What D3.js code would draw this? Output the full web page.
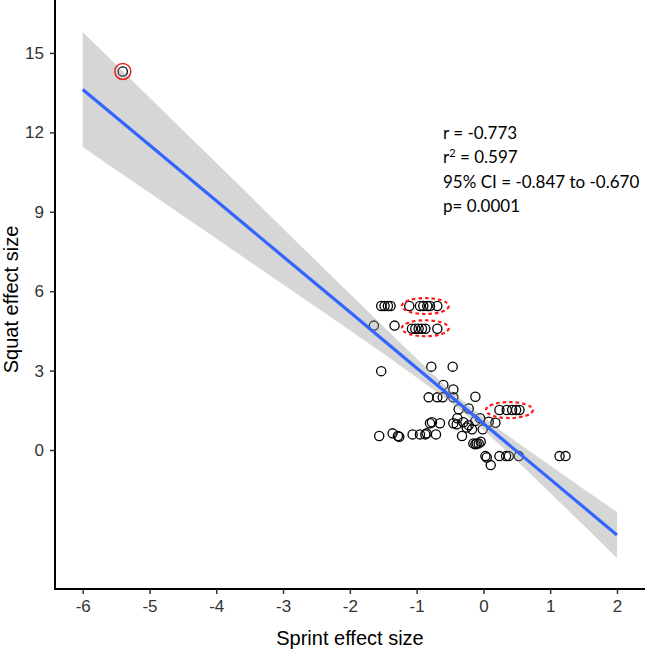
<!DOCTYPE html>
<html>
<head>
<meta charset="utf-8">
<script src="https://cdn.jsdelivr.net/npm/d3@7"></script>
<style>
  html, body { margin: 0; padding: 0; background: #fff; }
  svg { display: block; }
</style>
</head>
<body>
<svg id="chart" width="645" height="652"></svg>
<script>
// ---- Data ----
const sprintES = [
  -5.40,
  -1.53, -1.48, -1.43, -1.39,
  -1.11, -0.95, -0.90, -0.84, -0.80, -0.69,
  -1.64, -1.33,
  -1.07, -1.02, -0.97, -0.92, -0.87, -0.69,
  -1.53,
  -0.78, -0.46,
  -0.60, -0.45,
  -0.82, -0.69, -0.61, -0.45, -0.12,
  -0.37, -0.22,
  0.24, 0.35, 0.43, 0.49, 0.54,
  -0.39, -0.05,
  -0.80, -0.77, -0.65, -0.45, -0.40, -0.30, -0.22, -0.12, 0.08, 0.18, -0.25,
  -0.17, -0.01,
  -1.56, -1.36, -1.28, -1.26, -1.06, -0.95, -0.87, -0.85, -0.71, -0.32,
  -0.15, -0.12, -0.10, -0.07, -0.04,
  0.03, 0.05, 0.24, 0.34, 0.38, 0.53, 1.14, 1.23,
  0.11
];
const squatES = [
  14.30,
  5.44, 5.44, 5.44, 5.44,
  5.44, 5.44, 5.44, 5.44, 5.44, 5.44,
  4.70, 4.70,
  4.58, 4.58, 4.58, 4.58, 4.58, 4.58,
  2.98,
  3.15, 3.15,
  2.46, 2.29,
  1.99, 1.99, 1.99, 1.99, 2.01,
  1.54, 1.57,
  1.51, 1.51, 1.51, 1.51, 1.51,
  1.20, 1.20,
  1.01, 1.05, 1.01, 1.01, 0.97, 1.05, 0.94, 1.10, 1.07, 1.03, 0.85,
  0.78, 0.78,
  0.53, 0.63, 0.53, 0.50, 0.59, 0.59, 0.59, 0.63, 0.59, 0.53,
  0.25, 0.22, 0.25, 0.25, 0.31,
  -0.23, -0.28, -0.23, -0.23, -0.23, -0.23, -0.23, -0.23,
  -0.57
];

// Regression fit and 95% confidence band (read at these sprint values)
const fitX    = [-6, -5, -4, -3, -2, -1, -0.5, 0, 1, 2];
const fitY    = [13.62, 11.52, 9.42, 7.31, 5.21, 3.10, 2.05, 1.00, -1.10, -3.21];
const bandLow = [11.45, 9.72, 7.99, 6.25, 4.52, 2.74, 1.82, 0.76, -1.62, -4.08];
const bandHigh= [15.79, 13.32, 10.85, 8.37, 5.90, 3.46, 2.28, 1.24, -0.58, -2.34];

// Highlighted points
const outlier = { x: -5.40, y: 14.30 };
const groupEllipses = [
  { x: -0.87, y: 5.44 },
  { x: -0.87, y: 4.60 },
  { x: 0.39,  y: 1.51 }
];

const xTicks = [-6, -5, -4, -3, -2, -1, 0, 1, 2];
const yTicks = [0, 3, 6, 9, 12, 15];

const statsText = ["r = -0.773", "r2", "95% CI = -0.847 to -0.670", "p= 0.0001"];

// ---- Layout ----
const svg = d3.select("#chart");
const pLeft = 55, pRight = 645, pTop = 0, pBottom = 589;

const x = d3.scaleLinear().domain([-6.415, 2.42]).range([pLeft, pRight]);
const y = d3.scaleLinear().domain([-5.25, 17.0]).range([pBottom, pTop]);

const pts = sprintES.map((v, i) => ({ x: v, y: squatES[i] }));

// points (under the smoothing band, as in ggplot order)
svg.append("g").selectAll("circle").data(pts).join("circle")
  .attr("cx", d => x(d.x)).attr("cy", d => y(d.y)).attr("r", 4.6)
  .attr("fill", "none").attr("stroke", "#000").attr("stroke-width", 1.3);

// band
const bandData = fitX.map((v, i) => ({ x: v, lo: bandLow[i], hi: bandHigh[i], f: fitY[i] }));
svg.append("path").datum(bandData)
  .attr("d", d3.area().x(d => x(d.x)).y0(d => y(d.lo)).y1(d => y(d.hi)).curve(d3.curveMonotoneX))
  .attr("fill", "#999999").attr("fill-opacity", 0.4);

// fit line
svg.append("path").datum(bandData)
  .attr("d", d3.line().x(d => x(d.x)).y(d => y(d.f)))
  .attr("fill", "none").attr("stroke", "#3366FF").attr("stroke-width", 3.2);

// outlier ring
svg.append("circle").attr("cx", x(outlier.x)).attr("cy", y(outlier.y)).attr("r", 8)
  .attr("fill", "none").attr("stroke", "#e0261b").attr("stroke-width", 1.5);

// dashed ellipses
svg.append("g").selectAll("ellipse").data(groupEllipses).join("ellipse")
  .attr("cx", d => x(d.x)).attr("cy", d => y(d.y)).attr("rx", 23.5).attr("ry", 8)
  .attr("fill", "none").attr("stroke", "#ff1a1a").attr("stroke-width", 2.2)
  .attr("stroke-dasharray", "3.5,3");

// axes
const axisFont = "'Liberation Sans', Arial, sans-serif";
const fmt = d => String(d);
const xAxis = svg.append("g").attr("transform", `translate(0,${pBottom})`)
  .call(d3.axisBottom(x).tickValues(xTicks).tickSize(5).tickPadding(6).tickFormat(fmt));
const yAxis = svg.append("g").attr("transform", `translate(${pLeft},0)`)
  .call(d3.axisLeft(y).tickValues(yTicks).tickSize(5).tickPadding(6).tickFormat(fmt));
[xAxis, yAxis].forEach(g => {
  g.select(".domain").attr("stroke", "#000").attr("stroke-width", 2);
  g.selectAll(".tick line").attr("stroke", "#333").attr("stroke-width", 1.5);
  g.selectAll(".tick text").attr("fill", "#333").style("font-family", axisFont).style("font-size", "17px");
});
yAxis.select(".domain").attr("d", `M0,${pBottom}V${pTop}`);
xAxis.select(".domain").attr("d", `M${pLeft - 1},0H${pRight}`);

// axis titles
svg.append("text").attr("x", (pLeft + pRight) / 2).attr("y", 645)
  .attr("text-anchor", "middle").style("font-family", axisFont).style("font-size", "20px")
  .attr("fill", "#000").text("Sprint effect size");
svg.append("text").attr("transform", `translate(18,${(pTop + pBottom) / 2 + 5}) rotate(-90)`)
  .attr("text-anchor", "middle").style("font-family", axisFont).style("font-size", "20px")
  .attr("fill", "#000").text("Squat effect size");

// stats annotation
const stat = svg.append("g").style("font-family", "Lato, 'Open Sans', sans-serif").style("font-size", "17px");
const lineYs = [139, 163, 188, 212];
statsText.forEach((t, i) => {
  const tx = stat.append("text").attr("x", 443).attr("y", lineYs[i]).attr("fill", "#000");
  if (t === "r2") {
    tx.append("tspan").text("r");
    tx.append("tspan").attr("dy", -6).style("font-size", "11px").text("2");
    tx.append("tspan").attr("dy", 6).text(" = 0.597");
  } else {
    tx.text(t);
  }
});
</script>
</body>
</html>
